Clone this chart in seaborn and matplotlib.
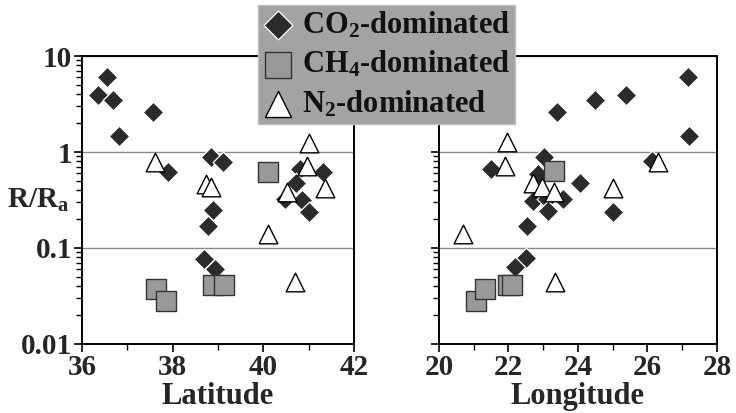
import numpy as np
import pandas as pd
import matplotlib
matplotlib.use("Agg")
import matplotlib.pyplot as plt
import seaborn as sns
from matplotlib.ticker import FixedLocator, FixedFormatter, LogLocator, NullFormatter

# ---------------- data ----------------
lat_co2 = [36.36, 36.56, 36.69, 36.82, 37.56, 37.90, 38.84, 39.10, 38.88, 38.79,
           38.69, 38.93, 40.81, 41.31, 40.72, 40.48, 40.85, 41.01]
lat_co2_r = [3.95, 6.0, 3.47, 1.46, 2.59, 0.62, 0.88, 0.78, 0.25, 0.17,
             0.077, 0.061, 0.665, 0.615, 0.48, 0.324, 0.32, 0.235]
lat_ch4 = [37.63, 37.85, 38.90, 39.13, 40.11]
lat_ch4_r = [0.037, 0.028, 0.041, 0.041, 0.62]
lat_n2 = [37.60, 38.74, 38.84, 40.11, 40.70, 41.00, 40.97, 40.53, 41.35]
lat_n2_r = [0.78, 0.46, 0.43, 0.14, 0.044, 1.24, 0.72, 0.38, 0.42]

lon_co2 = [27.17, 25.38, 24.49, 23.39, 27.19, 21.49, 23.02, 22.86, 24.06, 26.12,
           25.02, 23.58, 22.71, 23.10, 23.15, 22.52, 22.50, 22.20]
lon_co2_r = [6.0, 3.93, 3.5, 2.59, 1.46, 0.665, 0.88, 0.59, 0.48, 0.81,
             0.235, 0.324, 0.31, 0.324, 0.24, 0.17, 0.078, 0.063]
lon_ch4 = [21.07, 21.32, 22.00, 22.10, 23.32]
lon_ch4_r = [0.028, 0.037, 0.041, 0.041, 0.64]
lon_n2 = [21.95, 21.90, 22.71, 22.95, 23.31, 20.68, 23.34, 25.00, 26.31]
lon_n2_r = [1.26, 0.72, 0.48, 0.43, 0.38, 0.14, 0.044, 0.42, 0.79]

group_labels = ["CO$_2$-dominated", "CH$_4$-dominated", "N$_2$-dominated"]
y_ticks = [0.01, 0.1, 1, 10]
y_tick_labels = ["0.01", "0.1", "1", "10"]
lat_ticks = [36, 38, 40, 42]
lat_minor = [37, 39, 41]
lon_ticks = [20, 22, 24, 26, 28]
lon_minor = [21, 23, 25, 27]

# ---------------- style ----------------
sns.set_theme(style="ticks")
plt.rcParams["font.family"] = ["Liberation Serif", "DejaVu Serif"]
plt.rcParams["font.weight"] = "bold"
plt.rcParams["mathtext.default"] = "regular"
plt.rcParams["axes.linewidth"] = 1.4
plt.rcParams["axes.edgecolor"] = "black"

styles = [
    dict(marker="D", s=110, color="#2b2b2b", edgecolor="white", linewidth=0.9),
    dict(marker="s", s=190, color="#999999", edgecolor="#333333", linewidth=1.0),
    dict(marker="^", s=180, color="white", edgecolor="black", linewidth=1.0),
]

fig = plt.figure(figsize=(7.36, 4.13), dpi=100)
ax1 = fig.add_axes([82 / 736, 69 / 413, 272 / 736, 288 / 413])
ax2 = fig.add_axes([439 / 736, 69 / 413, 278 / 736, 288 / 413])

left_sets = [(lat_co2, lat_co2_r), (lat_ch4, lat_ch4_r), (lat_n2, lat_n2_r)]
right_sets = [(lon_co2, lon_co2_r), (lon_ch4, lon_ch4_r), (lon_n2, lon_n2_r)]

for ax, sets, xname in [(ax1, left_sets, "Latitude"), (ax2, right_sets, "Longitude")]:
    for (xs, ys), lab, st in zip(sets, group_labels, styles):
        df = pd.DataFrame({xname: xs, "ratio": ys})
        sns.scatterplot(data=df, x=xname, y="ratio", ax=ax, label=lab,
                        zorder=3, legend=False, **st)
    ax.set_yscale("log")
    ax.set_ylim(0.01, 10)
    ax.yaxis.set_major_locator(FixedLocator(y_ticks))
    ax.yaxis.set_major_formatter(FixedFormatter(y_tick_labels))
    ax.yaxis.set_minor_locator(LogLocator(base=10, subs=np.arange(2, 10)))
    ax.yaxis.set_minor_formatter(NullFormatter())
    ax.grid(True, axis="y", which="major", color="#8a8a8a", linewidth=1.0)
    ax.grid(False, axis="x")
    ax.set_xlabel(xname, fontsize=22, fontweight="bold", labelpad=1)
    ax.set_ylabel("")
    ax.tick_params(axis="both", which="major", direction="out", length=6,
                   width=1.2, labelsize=21, pad=1, color="black")
    ax.tick_params(axis="both", which="minor", direction="out", length=4,
                   width=1.0, color="black")
    for sp in ax.spines.values():
        sp.set_visible(True)
        sp.set_color("black")
        sp.set_linewidth(1.4)
    if ax.get_legend() is not None:
        ax.get_legend().remove()

ax1.set_xlim(36, 42)
ax1.xaxis.set_major_locator(FixedLocator(lat_ticks))
ax1.xaxis.set_minor_locator(FixedLocator(lat_minor))
ax2.set_xlim(20, 28)
ax2.xaxis.set_major_locator(FixedLocator(lon_ticks))
ax2.xaxis.set_minor_locator(FixedLocator(lon_minor))
ax2.tick_params(axis="y", labelleft=False)

for t in ax1.get_xticklabels() + ax1.get_yticklabels() + ax2.get_xticklabels():
    t.set_fontweight("bold")

ax1.set_ylabel("R/R$_a$", rotation=0, fontsize=21, fontweight="bold",
               ha="center", va="center")
ax1.yaxis.set_label_coords(-0.16, 0.5)

handles, labels = ax1.get_legend_handles_labels()
leg = fig.legend(handles, labels, loc="upper left",
                 bbox_to_anchor=(258 / 736, 1 - 5 / 413),
                 frameon=True, fancybox=False, framealpha=1,
                 facecolor="#a3a3a3", edgecolor="#bdbdbd",
                 prop=dict(family="Liberation Serif", weight="bold", size=22),
                 markerscale=1.4, handlelength=1.0, handletextpad=0.3,
                 borderpad=0.15, labelspacing=0.3, borderaxespad=0)
for t in leg.get_texts():
    t.set_color("#111111")

fig.savefig("out.png", dpi=100)
